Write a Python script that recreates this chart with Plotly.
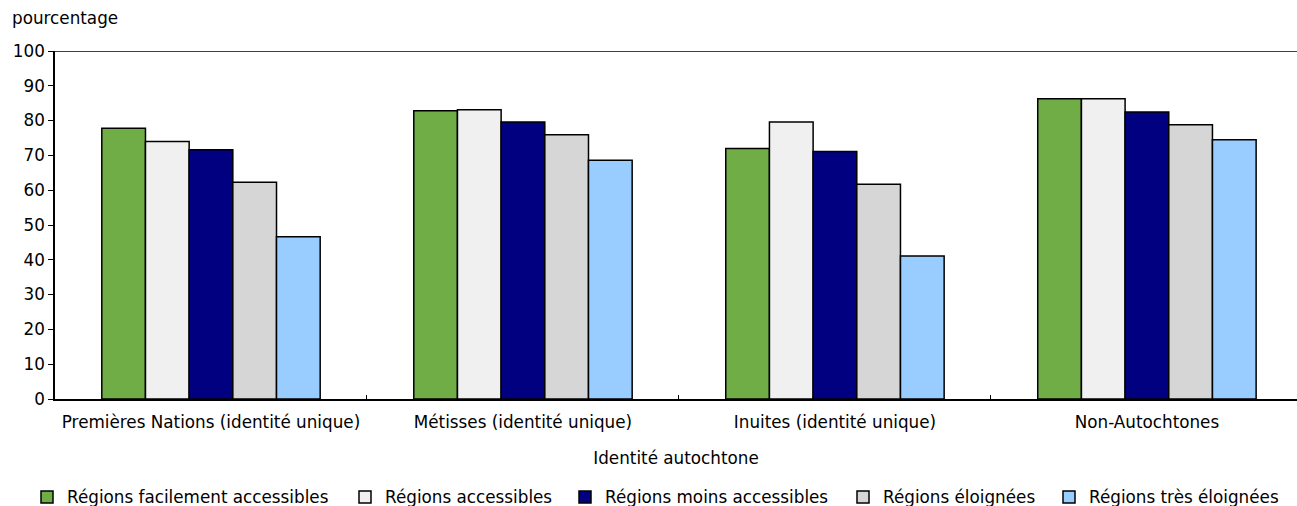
import plotly.graph_objects as go

categories = [
    "Premières Nations (identité unique)",
    "Métisses (identité unique)",
    "Inuites (identité unique)",
    "Non-Autochtones",
]

series_names = [
    "Régions facilement accessibles",
    "Régions accessibles",
    "Régions moins accessibles",
    "Régions éloignées",
    "Régions très éloignées",
]

facilement_accessibles = [77.8, 82.8, 72.0, 86.3]
accessibles = [74.0, 83.1, 79.6, 86.3]
moins_accessibles = [71.6, 79.6, 71.1, 82.5]
eloignees = [62.3, 75.9, 61.7, 78.8]
tres_eloignees = [46.6, 68.6, 41.1, 74.5]

y_ticks = [0, 10, 20, 30, 40, 50, 60, 70, 80, 90, 100]

series_values = [facilement_accessibles, accessibles, moins_accessibles, eloignees, tres_eloignees]
colors = ["#70AD47", "#F0F0F0", "#000080", "#D6D6D6", "#99CCFF"]

FONT = "DejaVu Sans"
FS = 16.8
W, H = 1297, 506

# left edge (px) of each legend entry along the bottom row
legend_left_px = [27, 345, 565, 843, 1049]

fig = go.Figure()
legend_layouts = {}
for i, (name, vals, col) in enumerate(zip(series_names, series_values, colors)):
    key = "legend" if i == 0 else f"legend{i + 1}"
    fig.add_trace(go.Bar(
        x=categories, y=vals, name=name, legend=key,
        marker=dict(color=col, line=dict(color="#000000", width=1.5)),
    ))
    legend_layouts[key] = dict(
        orientation="h", xref="container", yref="container",
        x=legend_left_px[i] / W, xanchor="left",
        y=(H - 497) / H, yanchor="middle",
        font=dict(family=FONT, size=FS), itemwidth=30,
        bgcolor="rgba(0,0,0,0)",
    )

fig.update_layout(
    width=W, height=H,
    margin=dict(l=55, r=0, t=51, b=107),
    paper_bgcolor="white", plot_bgcolor="white",
    font=dict(family=FONT, size=FS, color="#000000"),
    barmode="group", bargap=0.3, bargroupgap=0,
    showlegend=True,
    xaxis=dict(
        range=[-0.5, 3.481],
        showline=True, linecolor="#000000", linewidth=1.5,
        ticks="inside", ticklen=4, tickcolor="#000000", tickson="boundaries",
        tickfont=dict(family=FONT, size=FS), ticklabelstandoff=7,
        title=dict(text="Identité autochtone", standoff=21,
                   font=dict(family=FONT, size=FS)),
        showgrid=False,
    ),
    yaxis=dict(
        range=[0, 100], tickvals=y_ticks, showgrid=False,
        showline=True, linecolor="#000000", linewidth=1.5,
        ticks="outside", ticklen=5, tickcolor="#000000",
        tickfont=dict(family=FONT, size=FS),
        zeroline=False,
    ),
    annotations=[dict(
        text="pourcentage", xref="paper", yref="paper",
        x=-45 / 1242, y=1.0, yshift=33,
        xanchor="left", yanchor="middle", showarrow=False,
        font=dict(family=FONT, size=FS),
    )],
    shapes=[dict(
        type="line", xref="paper", yref="y", x0=0, x1=1, y0=100, y1=100,
        line=dict(color="#000000", width=1.5),
    )],
    **legend_layouts,
)

fig.write_html("out.html")
